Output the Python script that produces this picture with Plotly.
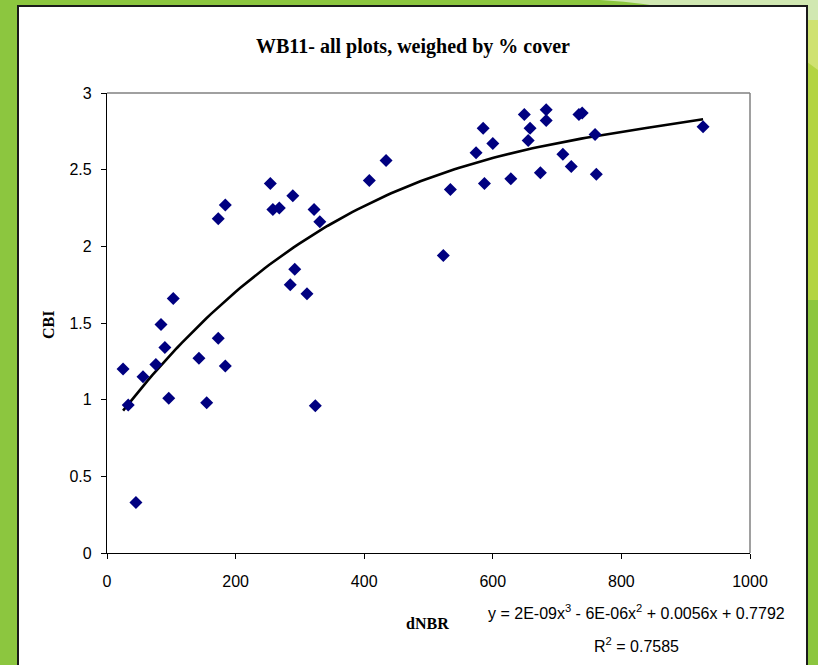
import numpy as np
import plotly.graph_objects as go

# dNBR (x) and CBI (y) values
dnbr = [25, 33, 45, 56, 76, 84, 90, 96, 103, 143, 155, 173, 173, 184, 184,
        254, 258, 268, 289, 285, 292, 311, 322, 331, 324, 408, 434, 523, 534,
        574, 585, 587, 600, 628, 649, 655, 658, 674, 683, 683, 709, 722, 734,
        739, 759, 761, 927]
cbi = [1.20, 0.965, 0.33, 1.15, 1.23, 1.49, 1.34, 1.01, 1.66, 1.27, 0.98, 2.18,
       1.40, 2.27, 1.22, 2.41, 2.24, 2.25, 2.33, 1.75, 1.85, 1.69, 2.24, 2.16,
       0.96, 2.43, 2.56, 1.94, 2.37, 2.61, 2.77, 2.41, 2.67, 2.44, 2.86, 2.69,
       2.77, 2.48, 2.89, 2.82, 2.60, 2.52, 2.86, 2.87, 2.73, 2.47, 2.78]
x_ticks = [0, 200, 400, 600, 800, 1000]
y_ticks = [0, 0.5, 1, 1.5, 2, 2.5, 3]
title_text = "WB11- all plots, weighed by % cover"
eq_text = "y = 2E-09x<sup>3</sup> - 6E-06x<sup>2</sup> + 0.0056x + 0.7792"
r2_text = "R<sup>2</sup> = 0.7585"

# polynomial (order 3) trendline computed from the data
coef = np.polyfit(dnbr, cbi, 3)
xs = np.linspace(min(dnbr), max(dnbr), 120)
ys = np.polyval(coef, xs)

W, H = 818, 665
L, R, T, B = 107, 68, 93, 112
PW, PH = W - L - R, H - T - B


def px(x):
    return (x - L) / PW


def py(y):
    return (H - B - y) / PH


fig = go.Figure()
fig.add_trace(go.Scatter(x=xs, y=ys, mode="lines",
                         line=dict(color="black", width=2.6),
                         hoverinfo="skip", showlegend=False))
fig.add_trace(go.Scatter(x=dnbr, y=cbi, mode="markers",
                         marker=dict(symbol="diamond", size=10, color="#000080"),
                         showlegend=False))

shapes = [
    # green background highlight (top right)
    dict(type="path", xref="paper", yref="paper", layer="below",
         path=f"M {px(600)},{py(0)} Q {px(740)},{py(8)} {px(818)},{py(70)} L {px(818)},{py(0)} Z",
         fillcolor="rgba(255,255,255,0.6)", line=dict(width=0)),
    dict(type="rect", xref="paper", yref="paper", layer="below",
         x0=px(807), x1=px(818), y0=py(20), y1=py(300),
         fillcolor="rgba(205,222,70,0.6)", line=dict(width=0)),
    # white chart box
    dict(type="rect", xref="paper", yref="paper", layer="below",
         x0=px(18), x1=px(807), y0=py(6), y1=py(668),
         fillcolor="white", line=dict(color="#1a1a1a", width=2)),
    # plot area border (top / right)
    dict(type="line", xref="paper", yref="paper", x0=0, x1=1, y0=1, y1=1,
         line=dict(color="#808080", width=1.5)),
    dict(type="line", xref="paper", yref="paper", x0=1, x1=1, y0=0, y1=1,
         line=dict(color="#808080", width=1.5)),
]


def ann(text, x, y, family, size, angle=0):
    return dict(text=text, xref="paper", yref="paper", x=px(x), y=py(y),
                xanchor="center", yanchor="middle", showarrow=False,
                textangle=angle, font=dict(family=family, size=size, color="black"))


annotations = [
    ann(f"<b>{title_text}</b>", 413, 46, "Liberation Serif", 20),
    ann("<b>CBI</b>", 48, 325, "Liberation Serif", 16, -90),
    ann("<b>dNBR</b>", 427, 623, "Liberation Serif", 16),
    ann(eq_text, 636, 612, "Liberation Sans", 16),
    ann(r2_text, 636, 645, "Liberation Sans", 16),
]

fig.update_layout(
    width=W, height=H,
    margin=dict(l=L, r=R, t=T, b=B, pad=0),
    paper_bgcolor="#8CC63F",
    plot_bgcolor="white",
    shapes=shapes,
    annotations=annotations,
    xaxis=dict(range=[0, 1000], tickvals=x_ticks, showgrid=False, zeroline=False,
               showline=True, linecolor="black", linewidth=1.2,
               ticks="outside", ticklen=5, tickcolor="black",
               ticklabelstandoff=9,
               tickfont=dict(family="Liberation Sans", size=16, color="black")),
    yaxis=dict(range=[0, 3], tickvals=y_ticks, showgrid=False, zeroline=False,
               showline=True, linecolor="black", linewidth=1.2,
               ticks="outside", ticklen=5, tickcolor="black",
               ticklabelstandoff=6,
               tickfont=dict(family="Liberation Sans", size=16, color="black")),
    font=dict(family="Liberation Sans"),
)

fig.write_html(
    "out.html",
    config={"displayModeBar": False},
    post_script="document.body.style.margin='0';document.body.style.background='#8CC63F';",
)
